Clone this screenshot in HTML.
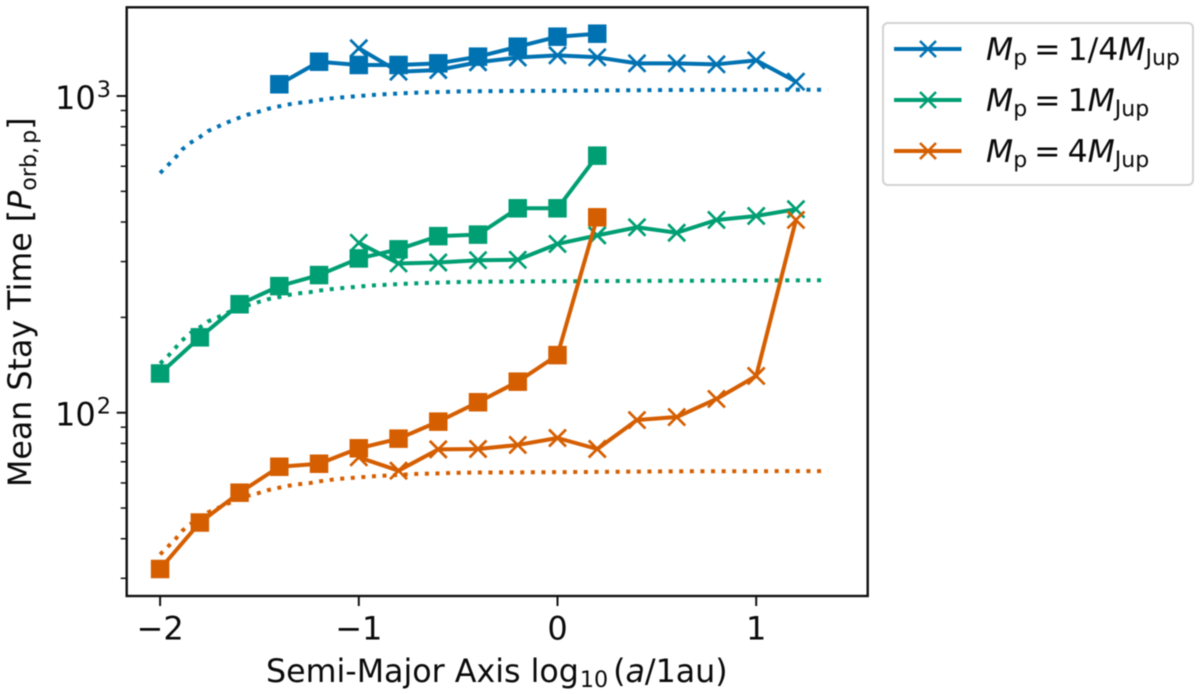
<!DOCTYPE html>
<html lang="en">
<head>
<meta charset="utf-8">
<title>Mean Stay Time vs Semi-Major Axis</title>
<style>
html,body{margin:0;padding:0;background:#fff;width:1200px;height:694px;overflow:hidden}
svg{display:block;filter:blur(0.45px)}
text{font-family:"DejaVu Sans","Liberation Sans",sans-serif;fill:#0a0a0a}
.it{font-style:italic}
</style>
</head>
<body>
<svg id="chart" xmlns="http://www.w3.org/2000/svg" width="1200" height="694" viewBox="0 0 1200 694">
  <rect x="0" y="0" width="1200" height="694" fill="#fff"/>
  <g id="series-layer"></g>
  <rect x="126.7" y="7.3" width="741" height="588.7" fill="none" stroke="#111" stroke-width="2.4"/>
  <g id="tick-layer"></g>

  <text x="266" y="682" font-size="31.7">Semi-Major Axis log<tspan font-size="22.2" dy="5" dx="1">10</tspan><tspan dy="-5" dx="5">(</tspan><tspan class="it">a</tspan>/1au)</text>
  <text transform="translate(31,487) rotate(-90)" font-size="31.7">Mean Stay Time [<tspan class="it">P</tspan><tspan font-size="22.2" dy="5">orb,</tspan><tspan font-size="22.2" dx="3">p</tspan><tspan dy="-5">]</tspan></text>

  <g>
    <rect x="883" y="23" width="310" height="162" rx="5" ry="5" fill="#fff" stroke="#d2d2d2" stroke-width="2"/>
    <g>
      <line x1="894" y1="49" x2="961.5" y2="49" stroke="#0072B2" stroke-width="4"/>
      <path d="M920 41L936 57M920 57L936 41" stroke="#0072B2" stroke-width="2.6" fill="none"/>
      <text x="986" y="60" font-size="31.5"><tspan class="it">M</tspan><tspan font-size="22" dy="5">p</tspan><tspan dy="-5" dx="7">=</tspan><tspan dx="7">1/4</tspan><tspan class="it">M</tspan><tspan font-size="22" dy="5">Jup</tspan></text>
    </g>
    <g>
      <line x1="894" y1="100" x2="961.5" y2="100" stroke="#009E73" stroke-width="4"/>
      <path d="M920 92L936 108M920 108L936 92" stroke="#009E73" stroke-width="2.6" fill="none"/>
      <text x="986" y="111" font-size="31.5"><tspan class="it">M</tspan><tspan font-size="22" dy="5">p</tspan><tspan dy="-5" dx="7">=</tspan><tspan dx="7">1</tspan><tspan class="it">M</tspan><tspan font-size="22" dy="5">Jup</tspan></text>
    </g>
    <g>
      <line x1="894" y1="151" x2="961.5" y2="151" stroke="#D55E00" stroke-width="4"/>
      <path d="M920 143L936 159M920 159L936 143" stroke="#D55E00" stroke-width="2.6" fill="none"/>
      <text x="986" y="162" font-size="31.5"><tspan class="it">M</tspan><tspan font-size="22" dy="5">p</tspan><tspan dy="-5" dx="7">=</tspan><tspan dx="7">4</tspan><tspan class="it">M</tspan><tspan font-size="22" dy="5">Jup</tspan></text>
    </g>
  </g>
</svg>
<script>
// Tick data
const xTickValues = [-2, -1, 0, 1];
const xTickLabels = ['\u22122', '\u22121', '0', '1'];
const yMajorValues = [100, 1000];
const yMajorExponents = ['2', '3'];
const yMinorValues = [30, 40, 50, 60, 70, 80, 90, 200, 300, 400, 500, 600, 700, 800, 900];

// Shared horizontal positions
const squareXFull = [-2, -1.8, -1.6, -1.4, -1.2, -1, -0.8, -0.6, -0.4, -0.2, 0, 0.2];
const squareXBlue = [-1.4, -1.2, -1, -0.8, -0.6, -0.4, -0.2, 0, 0.2];
const crossX = [-1, -0.8, -0.6, -0.4, -0.2, 0, 0.2, 0.4, 0.6, 0.8, 1, 1.2];
const dottedX = [-2, -1.96, -1.92, -1.89, -1.85, -1.8, -1.76, -1.71, -1.66, -1.61, -1.56, -1.51, -1.46, -1.41, -1.36, -1.31, -1.25, -1.2, -1.15, -1.1, -0.94, -0.73, -0.46, 0, 0.6, 1.36];

// Mp = 1/4 MJup
const blueSquares = [1089, 1283, 1253, 1253, 1268, 1331, 1431, 1539, 1573];
const blueCrosses = [1415, 1193, 1208, 1278, 1323, 1344, 1325, 1268, 1268, 1259, 1296, 1110];
const blueDotted = [571, 605, 642, 677, 710, 742, 774, 800, 826, 850, 873, 890, 910, 925, 939, 950, 959, 971, 981, 988, 1007, 1024, 1035, 1039, 1045, 1047];

// Mp = 1 MJup
const greenSquares = [133, 173, 220, 251, 272, 307, 328, 361, 365, 442, 442, 648];
const greenCrosses = [344, 296, 298, 303, 304, 341, 363, 385, 370, 406, 418, 439];
const greenDotted = [143, 151, 161, 169, 178, 186, 194, 200, 207, 213, 218, 223, 228, 231, 235, 238, 240, 243, 245, 247, 252, 256, 259, 260, 261, 262];

// Mp = 4 MJup
const orangeSquares = [32.1, 45.0, 55.9, 67.5, 69.0, 77.2, 82.8, 93.7, 107.9, 125.3, 152, 414];
const orangeCrosses = [72.3, 65.6, 76.6, 76.8, 79.1, 83.2, 76.8, 94.8, 96.9, 110.5, 130.6, 406];
const orangeDotted = [35.7, 37.8, 40.1, 42.3, 44.4, 46.4, 48.4, 50, 51.6, 53.1, 54.6, 55.6, 56.9, 57.8, 58.7, 59.4, 59.9, 60.7, 61.3, 61.8, 62.9, 64, 64.7, 64.9, 65.3, 65.4];

const SVG_NS = 'http://www.w3.org/2000/svg';
const plotLeft = 126.7, plotBottom = 596;

// Axis functions
function xScale(v) { return 557.5 + v * 198.7; }
function yScale(v) { return 96 + (3 - Math.log10(v)) * 316.7; }

function toPoints(xs, ys) {
  return xs.map(function (x, i) { return xScale(x).toFixed(2) + ',' + yScale(ys[i]).toFixed(2); }).join(' ');
}

function drawSeries(color, sqX, squares, crosses, dotted) {
  const layer = document.getElementById('series-layer');

  const dots = document.createElementNS(SVG_NS, 'polyline');
  
  
  dots.setAttribute('points', toPoints(dottedX, dotted));
  dots.setAttribute('fill', 'none');
  dots.setAttribute('stroke', color);
  dots.setAttribute('stroke-width', '4');
  dots.setAttribute('stroke-dasharray', '4 6.6');
  layer.appendChild(dots);

  const crossLine = document.createElementNS(SVG_NS, 'polyline');
  
  
  crossLine.setAttribute('points', toPoints(crossX, crosses));
  crossLine.setAttribute('fill', 'none');
  crossLine.setAttribute('stroke', color);
  crossLine.setAttribute('stroke-width', '4');
  crossLine.setAttribute('stroke-linejoin', 'round');
  layer.appendChild(crossLine);

  crosses.forEach(function (v, i) {
    const cx = xScale(crossX[i]), cy = yScale(v), r = 8.5;
    const mark = document.createElementNS(SVG_NS, 'path');
    
    
    mark.setAttribute('d', 'M' + (cx - r) + ' ' + (cy - r) + 'L' + (cx + r) + ' ' + (cy + r) + 'M' + (cx - r) + ' ' + (cy + r) + 'L' + (cx + r) + ' ' + (cy - r));
    mark.setAttribute('fill', 'none');
    mark.setAttribute('stroke', color);
    mark.setAttribute('stroke-width', '2.7');
    layer.appendChild(mark);
  });

  const squareLine = document.createElementNS(SVG_NS, 'polyline');
  
  
  squareLine.setAttribute('points', toPoints(sqX, squares));
  squareLine.setAttribute('fill', 'none');
  squareLine.setAttribute('stroke', color);
  squareLine.setAttribute('stroke-width', '4');
  squareLine.setAttribute('stroke-linejoin', 'round');
  layer.appendChild(squareLine);

  squares.forEach(function (v, i) {
    const size = 18.5;
    const sq = document.createElementNS(SVG_NS, 'rect');
    
    
    sq.setAttribute('x', xScale(sqX[i]) - size / 2);
    sq.setAttribute('y', yScale(v) - size / 2);
    sq.setAttribute('width', size);
    sq.setAttribute('height', size);
    sq.setAttribute('fill', color);
    layer.appendChild(sq);
  });
}

drawSeries('#0072B2', squareXBlue, blueSquares, blueCrosses, blueDotted);
drawSeries('#009E73', squareXFull, greenSquares, greenCrosses, greenDotted);
drawSeries('#D55E00', squareXFull, orangeSquares, orangeCrosses, orangeDotted);

const tickLayer = document.getElementById('tick-layer');

xTickValues.forEach(function (v, i) {
  const x = xScale(v);
  const tick = document.createElementNS(SVG_NS, 'line');
  
  
  tick.setAttribute('x1', x);
  tick.setAttribute('x2', x);
  tick.setAttribute('y1', plotBottom);
  tick.setAttribute('y2', plotBottom + 10);
  tick.setAttribute('stroke', '#111');
  tick.setAttribute('stroke-width', '2');
  tickLayer.appendChild(tick);

  const label = document.createElementNS(SVG_NS, 'text');
  
  
  label.setAttribute('x', x);
  label.setAttribute('y', 639.5);
  label.setAttribute('text-anchor', 'middle');
  label.setAttribute('font-size', '32');
  label.textContent = xTickLabels[i];
  tickLayer.appendChild(label);
});

yMajorValues.forEach(function (v, i) {
  const y = yScale(v);
  const tick = document.createElementNS(SVG_NS, 'line');
  
  
  tick.setAttribute('x1', plotLeft - 10);
  tick.setAttribute('x2', plotLeft);
  tick.setAttribute('y1', y);
  tick.setAttribute('y2', y);
  tick.setAttribute('stroke', '#111');
  tick.setAttribute('stroke-width', '2');
  tickLayer.appendChild(tick);

  const label = document.createElementNS(SVG_NS, 'text');
  
  
  label.setAttribute('x', 55);
  label.setAttribute('y', y + 13);
  label.setAttribute('font-size', '32');
  label.textContent = '10';
  const exp = document.createElementNS(SVG_NS, 'tspan');
  exp.setAttribute('font-size', '22.4');
  exp.setAttribute('dy', '-12');
  exp.setAttribute('dx', '1');
  exp.textContent = yMajorExponents[i];
  label.appendChild(exp);
  tickLayer.appendChild(label);
});

yMinorValues.forEach(function (v) {
  const y = yScale(v);
  const tick = document.createElementNS(SVG_NS, 'line');
  
  
  tick.setAttribute('x1', plotLeft - 6);
  tick.setAttribute('x2', plotLeft);
  tick.setAttribute('y1', y);
  tick.setAttribute('y2', y);
  tick.setAttribute('stroke', '#111');
  tick.setAttribute('stroke-width', '1.5');
  tickLayer.appendChild(tick);
});
</script>
</body>
</html>
